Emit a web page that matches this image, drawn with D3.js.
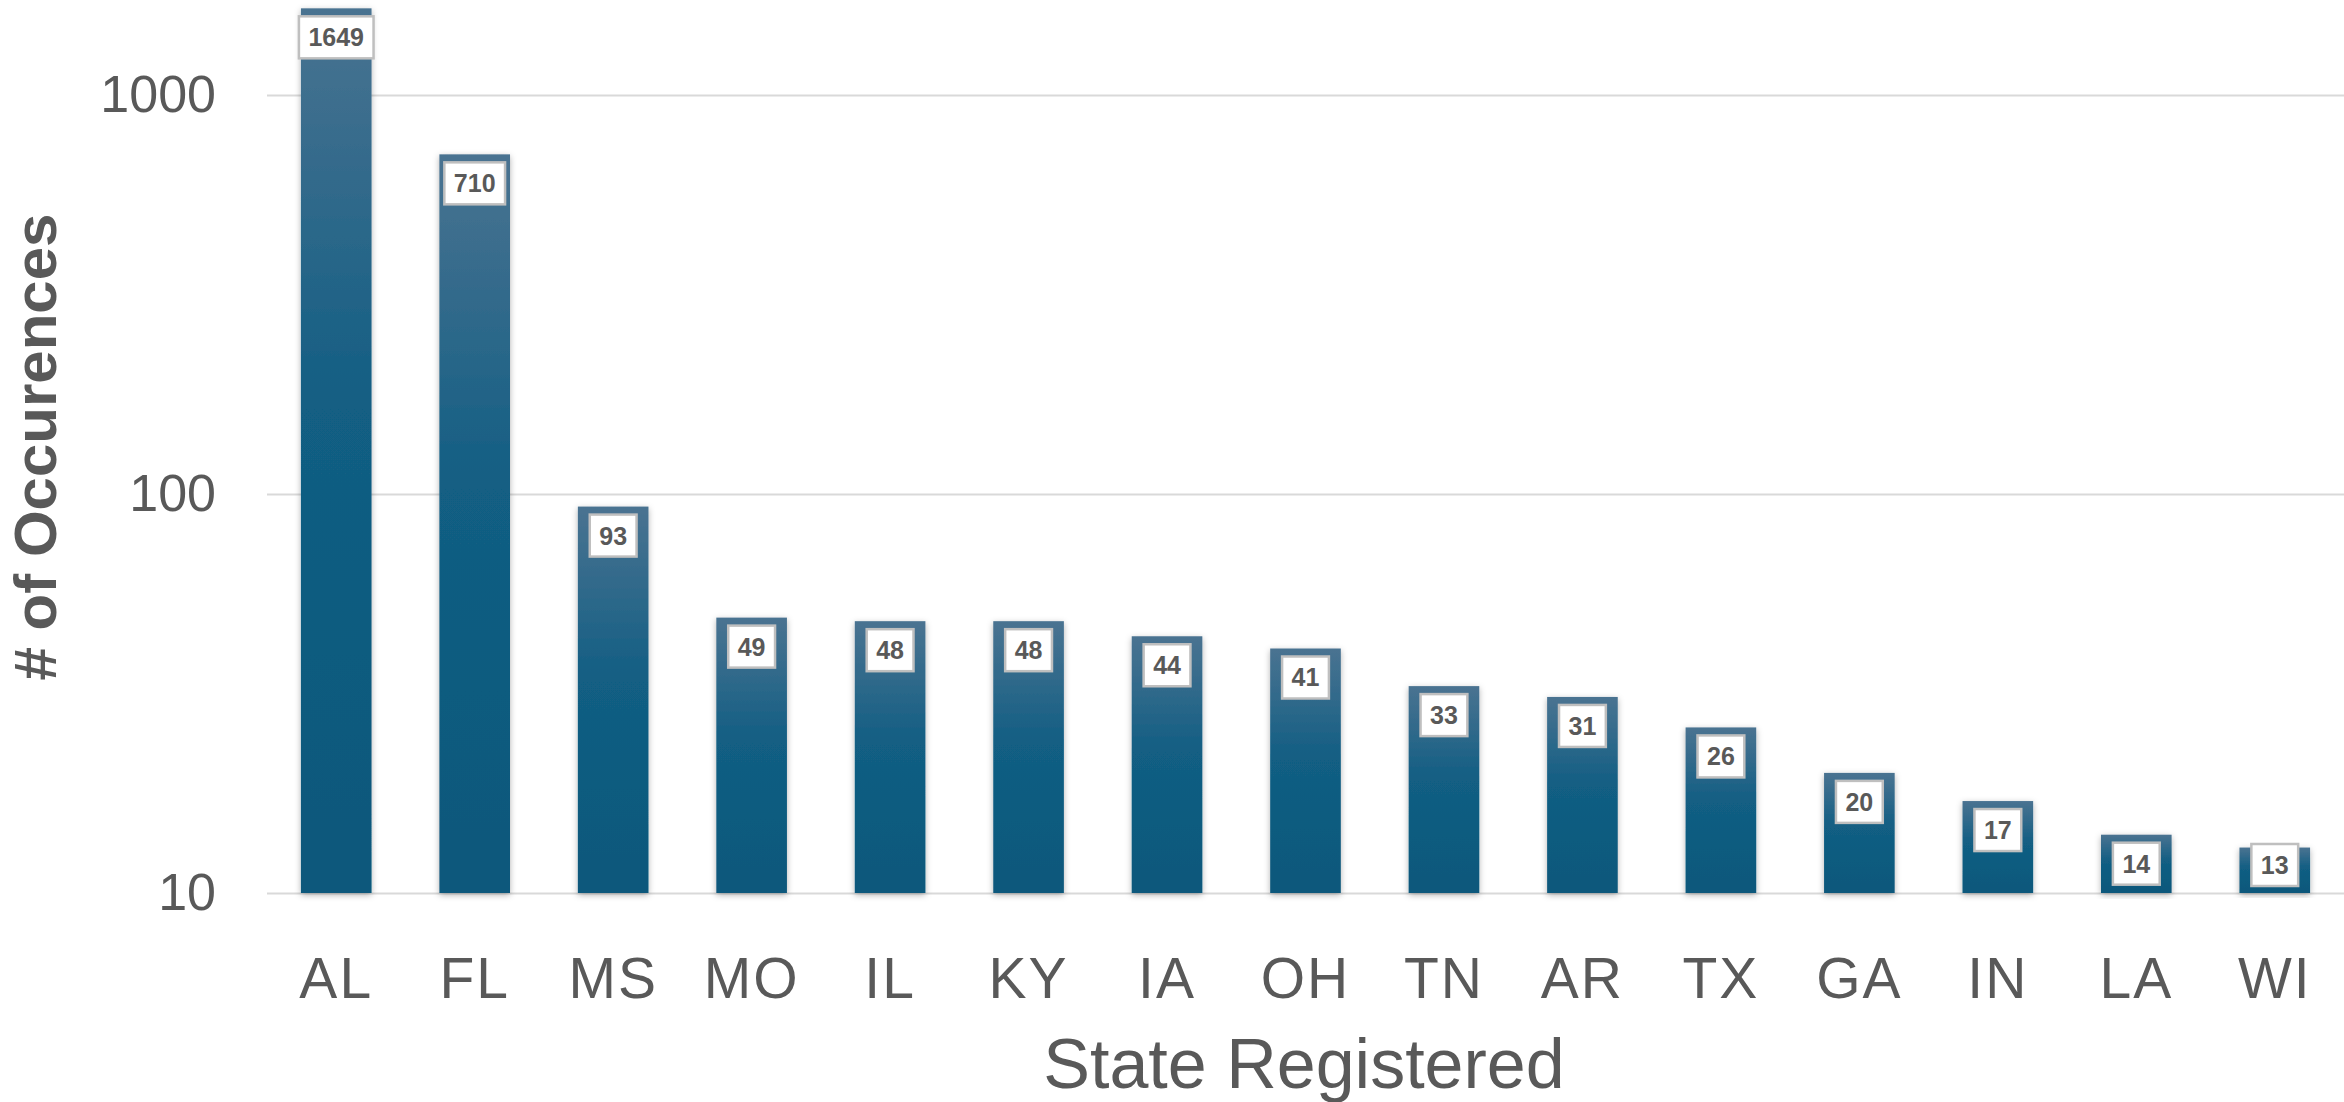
<!DOCTYPE html>
<html lang="en">
	<head>
		<meta charset="utf-8">
		<title>State Registered</title>
		<script src="https://d3js.org/d3.v7.min.js"></script>
		<style>
			body { margin: 0; background: white; }
			svg text { font-family: "Liberation Sans", Arial, sans-serif; fill: #595959; }
		</style>
	</head>
	<body>
		<script type="text/javascript">

			// data
			var states = ["AL", "FL", "MS", "MO", "IL", "KY", "IA", "OH", "TN", "AR", "TX", "GA", "IN", "LA", "WI"];
			var counts = [1649, 710, 93, 49, 48, 48, 44, 41, 33, 31, 26, 20, 17, 14, 13];
			var yTicks = [10, 100, 1000];

			var w = 2344;
			var h = 1102;
			var left = 267, right = 2344, base = 893, top1000 = 95;

			// scales
			var x = d3.scaleBand().domain(states).range([left, right]).paddingInner(0.49).paddingOuter(0.245);
			var y = d3.scaleLog().domain([10, 1000]).range([base, top1000]);

			var svg = d3.select("body").append("svg").attr("width", w).attr("height", h);

			var defs = svg.append("defs");
			var grad = defs.append("linearGradient").attr("id", "barGrad")
				.attr("x1", 0).attr("y1", 0).attr("x2", 0).attr("y2", 1);
			grad.append("stop").attr("offset", "0%").attr("stop-color", "#4a7391");
			grad.append("stop").attr("offset", "45%").attr("stop-color", "#125e83");
			grad.append("stop").attr("offset", "100%").attr("stop-color", "#0b587b");

			var shadow = defs.append("filter").attr("id", "shadow")
				.attr("x", "-20%").attr("y", "-10%").attr("width", "140%").attr("height", "120%");
			shadow.append("feDropShadow").attr("dx", 0).attr("dy", 2).attr("stdDeviation", 3)
				.attr("flood-color", "#000").attr("flood-opacity", 0.3);

			// y axis with gridlines
			var yAxis = d3.axisLeft(y).tickValues(yTicks).tickFormat(d3.format("d"))
				.tickSize(-(right - left)).tickPadding(51);
			var gy = svg.append("g").attr("transform", "translate(" + left + ",0)").call(yAxis);
			gy.select(".domain").remove();
			gy.selectAll("line").attr("stroke", "#d9d9d9").attr("stroke-width", 2);
			gy.selectAll("text").attr("font-size", 52).attr("fill", "#595959")
				.style("font-family", "'Liberation Sans', Arial, sans-serif");

			// bars
			svg.append("g").selectAll("rect").data(counts).enter().append("rect")
				.attr("x", function(d, i) { return x(states[i]); })
				.attr("y", function(d) { return y(d); })
				.attr("width", x.bandwidth())
				.attr("height", function(d) { return base - y(d); })
				.attr("fill", "url(#barGrad)")
				.attr("filter", "url(#shadow)");

			// value labels
			var boxH = 42;
			var lab = svg.append("g").selectAll("g").data(counts).enter().append("g");
			lab.each(function(d, i) {
				var g = d3.select(this);
				var cx = x(states[i]) + x.bandwidth() / 2;
				var t = Math.min(y(d) + 8, base - 7 - boxH);
				var rect = g.append("rect");
				var txt = g.append("text").text(d)
					.attr("x", cx).attr("y", t + boxH / 2)
					.attr("text-anchor", "middle").attr("dy", "0.36em")
					.attr("font-size", 25).attr("font-weight", "bold").attr("fill", "#595959");
				var tw = txt.node().getComputedTextLength() + 19;
				rect.attr("x", cx - tw / 2).attr("y", t).attr("width", tw).attr("height", boxH)
					.attr("fill", "white").attr("stroke", "#bfbfbf").attr("stroke-width", 2.5);
			});

			// x axis labels
			var xAxis = d3.axisBottom(x).tickSize(0);
			var gx = svg.append("g").attr("transform", "translate(0," + base + ")").call(xAxis);
			gx.select(".domain").remove();
			gx.selectAll("text").attr("y", 105).attr("dy", 0)
				.attr("font-size", 57).attr("letter-spacing", 2).attr("fill", "#595959")
				.style("font-family", "'Liberation Sans', Arial, sans-serif");

			// axis titles
			svg.append("text").text("State Registered")
				.attr("x", 1304).attr("y", 1088).attr("text-anchor", "middle")
				.attr("font-size", 70);

			svg.append("text").text("# of Occurences")
				.attr("transform", "translate(34,447) rotate(-90)")
				.attr("text-anchor", "middle").attr("dy", "0.36em")
				.attr("font-size", 60).attr("font-weight", "bold");

		</script>
	</body>
</html>
